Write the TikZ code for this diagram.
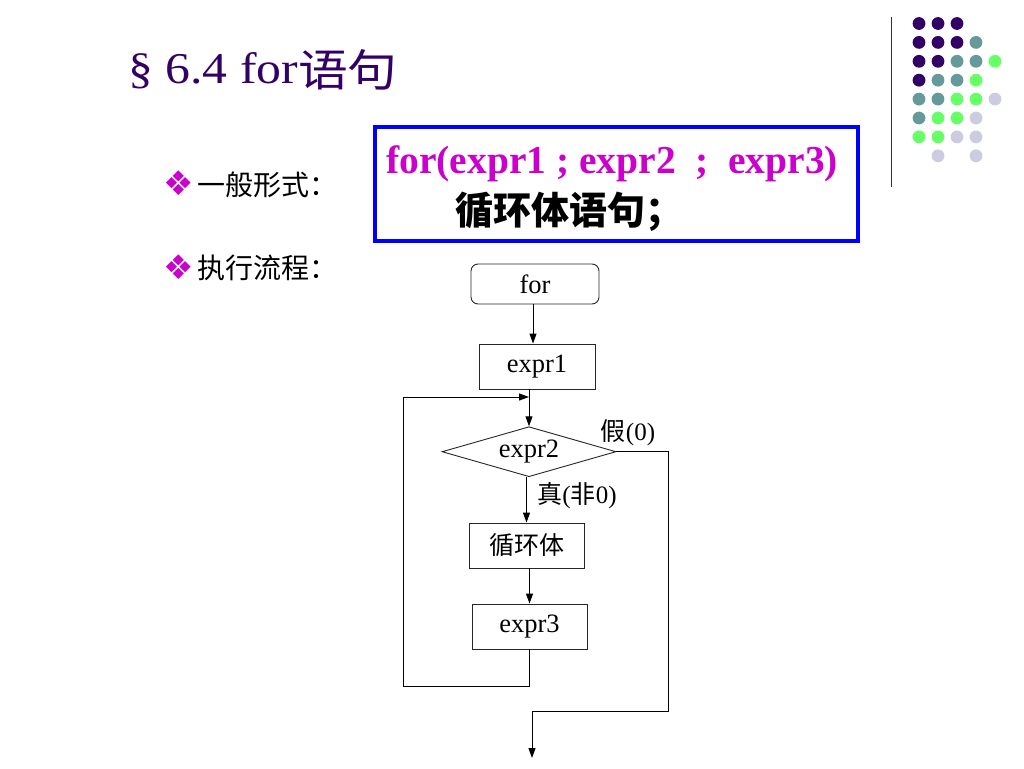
\documentclass[tikz,border=0pt]{standalone}
\usepackage{fontspec}
\usepackage{graphicx}
\setmainfont{Liberation Serif}
\newfontfamily\cjk{Noto Sans CJK SC}
\newfontfamily\dejavu{DejaVu Sans}
\usetikzlibrary{shapes.geometric,arrows.meta}
\definecolor{ttl}{RGB}{51,0,102}
\definecolor{mag}{RGB}{204,0,204}
\definecolor{dP}{RGB}{51,0,102}
\definecolor{dT}{RGB}{102,153,153}
\definecolor{dG}{RGB}{102,255,102}
\definecolor{dL}{RGB}{204,204,224}
\begin{document}
\begin{tikzpicture}[x=1pt,y=-1pt,
  fbox/.style={draw=black!85, line width=0.9pt, minimum width=115pt, minimum height=45pt, inner sep=0pt, font=\fontsize{26.5}{30}\selectfont},
  lbl/.style={inner sep=0pt, font=\fontsize{25}{28}\selectfont},
  arr/.style={line width=1pt, -{Triangle[length=10pt,width=7pt]}},
  ln/.style={line width=1pt},
  bul/.style={inner sep=0pt, text=mag, font=\dejavu\fontsize{34}{36}\selectfont},
  btxt/.style={inner sep=0pt, anchor=base west, font=\cjk\fontsize{28}{32}\selectfont}]
\useasboundingbox (0,0) rectangle (1024,768);
\fill[white] (0,0) rectangle (1024,768);
% decoration: vertical line and dots
\draw[black!80, line width=1.5pt] (891.5,17) -- (891.5,187);
\foreach \c/\i/\j in {P/0/0,P/1/0,P/2/0,
  P/0/1,P/1/1,P/2/1,T/3/1,
  P/0/2,P/1/2,T/2/2,T/3/2,G/4/2,
  P/0/3,T/1/3,T/2/3,G/3/3,
  T/0/4,T/1/4,G/2/4,G/3/4,L/4/4,
  T/0/5,G/1/5,G/2/5,L/3/5,
  G/0/6,G/1/6,L/2/6,L/3/6,
  L/1/7,L/3/7}
  \fill[d\c] ({919+19*\i},{23.5+18.9*\j}) circle (6.4pt);
% title
\node[inner sep=0pt, anchor=base west, text=ttl] (title) at (128,83)
  {\scalebox{1.13}[1]{\fontsize{44}{50}\selectfont § 6.4 for{\cjk\raisebox{-3pt}{语句}}}};
% bullets
\node[bul] (b1) at (179,183) {❖};
\node[btxt] (t1) at (197,195) {一般形式：};
\node[bul] (b2) at (179,267) {❖};
\node[btxt] (t2) at (197,278) {执行流程：};
% general form box
\node[draw=blue, line width=4pt, minimum width=483pt, minimum height=114pt, inner sep=0pt] (gbox) at (616.5,184) {};
\node[inner sep=0pt, anchor=base west, text=mag, font=\bfseries\fontsize{39.5}{44}\selectfont] (g1) at (386,173) {for(expr1 ; expr2\ \ ;\ \ expr3)};
\node[inner sep=0pt, anchor=base west, font=\cjk\bfseries\fontsize{38}{44}\selectfont] (g2) at (455,224) {循环体语句；};
% flowchart
\node[fbox, rounded corners=7pt, minimum width=128pt, minimum height=40pt] (for) at (535,284) {for};
\node[fbox, minimum width=116pt] (e1) at (537,366.5) {expr1};
\node[fbox, diamond, shape aspect=3.5, minimum width=174pt, minimum height=50pt] (dia) at (529,451.7) {expr2};
\node[fbox, font=\cjk\fontsize{25}{28}\selectfont] (body) at (526.5,545.5) {循环体};
\node[fbox] (e3) at (529.5,626.5) {expr3};
\node[lbl] (fl) at (628,433) {{\cjk 假}(0)};
\node[lbl] (tr) at (577,496) {{\cjk 真}({\cjk 非}0)};
\coordinate (lb) at (403,686);
\coordinate (lt) at (403,397);
\coordinate (rt) at (668,451.7);
\coordinate (rb) at (668,711);
\coordinate (mb) at (532,711);
\coordinate (endp) at (532,758);
\draw[arr] (for.south -| 533,0) -- (e1.north -| 533,0);
\draw[arr] (dia.north |- e1.south) -- (dia.north);
\draw[arr] (dia.south -| body.north) -- (body.north);
\draw[arr] (e3.north |- body.south) -- (e3.north);
\draw[arr] (e3.south) -- (e3.south |- lb) -- (lb) -- (lt) -- (lt -| dia.north);
\draw[ln] (dia.east) -- (rt) -- (rb) -- (mb);
\draw[arr] (mb) -- (endp);
\end{tikzpicture}
\end{document}
